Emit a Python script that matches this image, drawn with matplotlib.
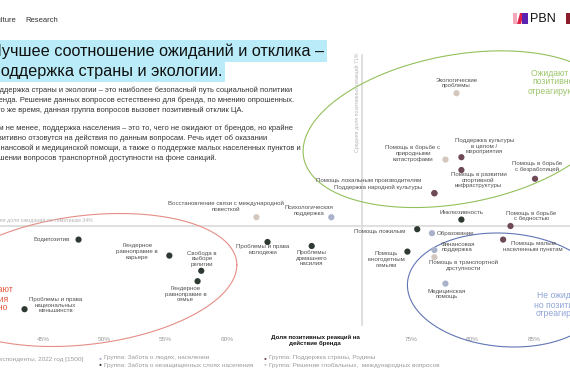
import numpy as np
import matplotlib
matplotlib.use("Agg")
import matplotlib.pyplot as plt
from matplotlib.patches import Rectangle, Polygon

plt.rcParams['font.family'] = ['Liberation Sans', 'DejaVu Sans']

# ---------------- data ----------------
categories = [
    "Экологические\nпроблемы",
    "Помощь в борьбе с\nприродными\nкатастрофами",
    "Поддержка культуры\nв целом /\nмероприятия",
    "Помощь в развитии\nспортивной\nинфраструктуры",
    "Помощь в борьбе\nс безработицей",
    "Помощь локальным производителям",
    "Поддержка народной культуры",
    "Психологическая\nподдержка",
    "Инклюзивность",
    "Помощь в борьбе\nс бедностью",
    "Помощь пожилым",
    "Образование",
    "Проблемы\nдомашнего\nнасилия",
    "Финансовая\nподдержка",
    "Помощь в транспортной\nдоступности",
    "Помощь\nмногодетным\nсемьям",
    "Помощь малым\nнаселенным пунктам",
    "Медицинская\nпомощь",
    "Проблемы и права\nмолодежи",
    "Бодипозитив",
    "Гендерное\nравноправие в\nкарьере",
    "Свобода в\nвыборе\nрелигии",
    "Гендерное\nравноправие в\nсемье",
    "Проблемы и права\nнациональных\nменьшинств",
    "Восстановление связи с международной\nповесткой",
]
# share of positive reactions, %
positive = [78.7, 77.8, 79.1, 79.1, 85.1, 76.9, 76.9, 68.5, 79.1, 83.1, 75.5, 76.7, 66.9,
            76.9, 76.9, 74.7, 82.5, 77.8, 63.3, 47.9, 55.3, 57.9, 57.6, 43.5, 62.4]
# share of expectations, %
expected = [50.6, 42.3, 42.6, 41.0, 39.9, 38.1, 38.1, 35.1, 34.8, 34.0, 33.6, 33.1, 31.5,
            31.0, 30.1, 30.8, 32.3, 26.8, 32.0, 32.3, 30.3, 28.4, 27.1, 23.6, 35.1]
groups = [4, 4, 3, 3, 3, 3, 3, 1, 2, 3, 2, 1, 2, 1, 4, 2, 3, 1, 2, 2, 2, 2, 2, 2, 4]
group_names = {
    1: "Группа: Забота о людях, населении",
    2: "Группа: Забота о незащищенных слоях населения",
    3: "Группа: Поддержка страны, Родины",
    4: "Группа: Решение глобальных,  международных вопросов",
}
avg_positive = 71
avg_expected = 34
x_ticks = [45, 50, 55, 60, 75, 80, 85]
x_tick_labels = ["45%", "50%", "55%", "60%", "75%", "80%", "85%"]

# ---------------- style ----------------
group_colors = {1: "#a9b2ca", 2: "#2e3a31", 3: "#6e4a56", 4: "#d4c7bd"}
# label layout: (dx px, dy px (down), ha, va)
label_layout = [
    (0, -5, "center", "bottom"),
    (-5, 2, "right", "bottom"),
    (23, -3, "center", "bottom"),
    (17, 2, "center", "top"),
    (2, -7, "center", "bottom"),
    (-13, -13, "right", "center"),
    (-12, -6, "right", "center"),
    (-22, -7, "center", "center"),
    (0, -7, "center", "center"),
    (21, -10, "center", "center"),
    (-12, 2, "right", "center"),
    (5, 0, "left", "center"),
    (0, 4, "center", "top"),
    (23, -3, "center", "center"),
    (29, 8, "center", "center"),
    (-21, 8, "center", "center"),
    (30, 7, "center", "center"),
    (1, 5, "center", "top"),
    (-5, 2, "center", "top"),
    (-9, 0, "right", "center"),
    (-32, -4, "center", "center"),
    (1, -4, "center", "bottom"),
    (-12, 5, "center", "top"),
    (31, -4, "center", "center"),
    (-31, -11, "center", "center"),
]

W, H = 570, 380
fig = plt.figure(figsize=(5.7, 3.8), dpi=100)
fig.patch.set_facecolor("white")
ax = fig.add_axes([0, 0, 1, 1])
ax.set_xlim(41.5, 87.95)
ax.set_ylim(14.75, 62.25)
ax.patch.set_alpha(0)
for s in ax.spines.values():
    s.set_visible(False)
ax.set_yticks([])
ax.set_xticks(x_ticks)
ax.set_xticklabels(x_tick_labels)
ax.tick_params(axis="x", length=0, pad=-31, labelsize=4.6, labelcolor="#9a9a9a")


def fx(px):
    return px / W


def fy(py):
    return 1 - py / H


# average lines
ax.axhline(avg_expected, color="#dcdcdc", lw=1.3, zorder=1)
ax.axvline(avg_positive, ymin=1 - 325 / H, ymax=1 - 55 / H, color="#dcdcdc", lw=1.3, zorder=1)
ax.annotate("Средняя доля позитивных реакций 71%", xy=(avg_positive, 49.5),
            xytext=(-5, 0), textcoords="offset pixels", rotation=90,
            ha="center", va="center", fontsize=3.8, color="#b5b5b5")
ax.annotate("Средняя доля ожиданий по тематикам 34%", xy=(40.2, avg_expected),
            xytext=(0, 6), textcoords="offset pixels", annotation_clip=False,
            ha="left", va="center", fontsize=3.8, color="#b5b5b5")


# zones (sheared ellipses)
def zone(xc, yc, w, h, slope, color):
    t = np.linspace(0, 2 * np.pi, 400)
    ax.plot(xc + w * np.cos(t), yc + slope * w * np.cos(t) + h * np.sin(t),
            color=color, lw=0.8, clip_on=False, zorder=2)


zone(78.8, 46.1, 12.6, 9.4, 0.218, "#93c05a")
zone(48.5, 27.25, 12.3, 8.1, 0.152, "#e58d86")
zone(82.7, 26.0, 8.0, 7.1, -0.077, "#6075b3")

# points
cols = [group_colors[g] for g in groups]
ax.scatter(positive, expected, s=20, c=cols, edgecolors="none", zorder=4)
for cat, xv, yv, (dx, dy, ha, va) in zip(categories, positive, expected, label_layout):
    ax.annotate(cat, xy=(xv, yv), xytext=(dx, -dy), textcoords="offset pixels",
                ha=ha, va=va, fontsize=4.4, color="#505050", linespacing=1.15,
                multialignment="center", zorder=5)

# zone titles
fig.text(fx(553), fy(82), "Ожидают и\nпозитивно\nотреагируют", ha="center", va="center",
         fontsize=6.2, color="#9cc56a", linespacing=1.0)
fig.text(fx(561), fy(305), "Не ожидают\nно позитивно\nотреагируют", ha="center", va="center",
         fontsize=6.2, color="#8fa3d6", linespacing=1.0)
fig.text(fx(-12), fy(299), "Не ожидают\nи реакция\nнегативно", ha="center", va="center",
         fontsize=6.2, color="#e2583d", linespacing=1.0)

# axis title
ax.annotate("Доля позитивных реакций на\nдействие бренда", xy=(67.2, 0), xycoords=("data", "axes fraction"),
            xytext=(0, 45), textcoords="offset pixels", ha="center", va="top",
            fontsize=4.4, fontweight="bold", color="#111111", linespacing=1.1)

# header
fig.text(fx(16), fy(20), "Culture", ha="right", va="center", fontsize=5.5, color="#333333")
fig.text(fx(25), fy(20), "Research", ha="left", va="center", fontsize=5.5, color="#333333")

# logo
fig.patches.append(Rectangle((fx(513), fy(24)), fx(4), 11 / H, transform=fig.transFigure,
                             facecolor="#f3a9ba", edgecolor="none"))
fig.patches.append(Polygon([(fx(517), fy(24)), (fx(520), fy(13)), (fx(524), fy(13)), (fx(521), fy(24))],
                           closed=True, transform=fig.transFigure, facecolor="#e0224a", edgecolor="none"))
fig.patches.append(Rectangle((fx(522), fy(24)), fx(6), 11 / H, transform=fig.transFigure,
                             facecolor="#5a22b0", edgecolor="none"))
fig.text(fx(530), fy(19), "PBN", ha="left", va="center", fontsize=9, color="#111111")
fig.patches.append(Rectangle((fx(566), fy(24)), fx(6), 11 / H, transform=fig.transFigure,
                             facecolor="#8b1c2c", edgecolor="none"))

# title
box = dict(facecolor="#b9ecf8", edgecolor="none", boxstyle="square,pad=0.17")
fig.text(fx(-9), fy(51), "Лучшее соотношение ожиданий и отклика –", ha="left", va="center",
         fontsize=11.7, color="#111111", bbox=box)
fig.text(fx(-8), fy(71.5), "поддержка страны и экологии.", ha="left", va="center",
         fontsize=11.7, color="#111111", bbox=box)

# paragraphs
para = [
    (90, "Поддержка страны и экологии – это наиболее безопасный путь социальной политики"),
    (100, "бренда. Решение данных вопросов естественно для бренда, по мнению опрошенных."),
    (110, "В то же время, данная группа вопросов вызовет позитивный отклик ЦА."),
    (128, "Тем не менее, поддержка населения – это то, чего не ожидают от брендов, но крайне"),
    (138, "позитивно отзовутся на действия по данным вопросам. Речь идет об оказании"),
    (148, "финансовой и медицинской помощи, а также о поддержке малых населенных пунктов и"),
    (158, "решении вопросов транспортной доступности на фоне санкций."),
]
for py, line in para:
    fig.text(fx(-10), fy(py), line, ha="left", va="center", fontsize=5.45, color="#333333")

# footer / legend
fig.text(fx(-5), fy(359), "Респонденты, 2022 год [1500]", ha="left", va="center",
         fontsize=4.6, color="#9a9a9a")
legend_pos = {1: (100, 358), 2: (100, 365), 3: (265, 358), 4: (265, 365)}
for g, (px, py) in legend_pos.items():
    fig.text(fx(px), fy(py), "●", ha="center", va="center", fontsize=3.5, color=group_colors[g])
    fig.text(fx(px + 4), fy(py), group_names[g], ha="left", va="center", fontsize=4.6, color="#9a9a9a")

fig.savefig("out.png", dpi=100, facecolor="white")
